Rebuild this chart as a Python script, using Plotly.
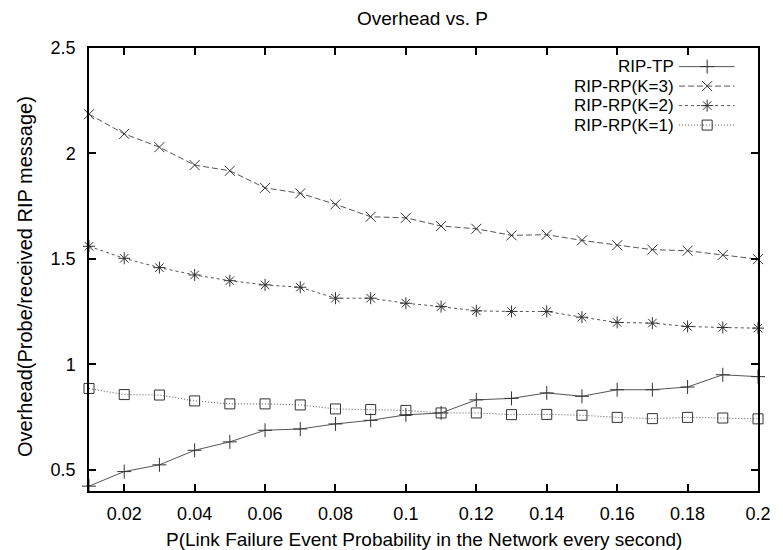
import plotly.graph_objects as go

p_values = [0.01, 0.02, 0.03, 0.04, 0.05, 0.06, 0.07, 0.08, 0.09, 0.10,
            0.11, 0.12, 0.13, 0.14, 0.15, 0.16, 0.17, 0.18, 0.19, 0.20]

rip_tp = [0.423, 0.492, 0.524, 0.593, 0.633, 0.688, 0.694, 0.718, 0.735, 0.761,
          0.770, 0.832, 0.839, 0.865, 0.849, 0.880, 0.880, 0.893, 0.951, 0.942]
rip_rp_k3 = [2.186, 2.093, 2.030, 1.945, 1.918, 1.837, 1.811, 1.759, 1.700, 1.695,
             1.656, 1.643, 1.612, 1.615, 1.588, 1.565, 1.544, 1.539, 1.519, 1.499]
rip_rp_k2 = [1.560, 1.503, 1.459, 1.424, 1.397, 1.377, 1.366, 1.314, 1.314, 1.290,
             1.274, 1.254, 1.251, 1.251, 1.224, 1.199, 1.196, 1.180, 1.175, 1.172]
rip_rp_k1 = [0.886, 0.857, 0.855, 0.827, 0.813, 0.813, 0.808, 0.789, 0.786, 0.782,
             0.770, 0.770, 0.762, 0.763, 0.759, 0.749, 0.743, 0.749, 0.746, 0.742]

series_names = ["RIP-TP", "RIP-RP(K=3)", "RIP-RP(K=2)", "RIP-RP(K=1)"]
series_values = [rip_tp, rip_rp_k3, rip_rp_k2, rip_rp_k1]

x_tick_vals = [0.02, 0.04, 0.06, 0.08, 0.10, 0.12, 0.14, 0.16, 0.18, 0.20]
x_tick_text = ["0.02", "0.04", "0.06", "0.08", "0.1", "0.12", "0.14", "0.16", "0.18", "0.2"]
y_tick_vals = [0.5, 1.0, 1.5, 2.0, 2.5]
y_tick_text = ["0.5", "1", "1.5", "2", "2.5"]

title_text = "Overhead vs. P"
x_title = "P(Link Failure Event Probability in the Network every second)"
y_title = "Overhead(Probe/received RIP message)"

styles = [
    dict(dash="solid", symbol="cross-thin-open", size=10),
    dict(dash="6px,3px", symbol="x-thin-open", size=10),
    dict(dash="3px,3px", symbol="asterisk-open", size=10),
    dict(dash="1px,2px", symbol="square-open", size=10),
]
line_color = "#555555"
marker_color = "#333333"
FONT = "Liberation Sans, Arial, sans-serif"
FS = 18

fig = go.Figure()
for name, vals, st in zip(series_names, series_values, styles):
    fig.add_trace(go.Scatter(
        x=p_values, y=vals, mode="lines+markers", name=name,
        line=dict(color=line_color, width=1, dash=st["dash"]),
        marker=dict(symbol=st["symbol"], size=st["size"],
                    color=marker_color, line=dict(color=marker_color, width=1)),
        showlegend=False, cliponaxis=False,
    ))

# gnuplot-style key: text right-aligned, then line sample with a marker
row_y = [0.958, 0.914, 0.870, 0.826]
for name, st, ry in zip(series_names, styles, row_y):
    fig.add_trace(go.Scatter(
        x=[0.882, 0.965], y=[ry, ry], mode="lines", xaxis="x2", yaxis="y2",
        line=dict(color=line_color, width=1, dash=st["dash"]),
        showlegend=False, hoverinfo="skip"))
    fig.add_trace(go.Scatter(
        x=[0.924], y=[ry], mode="markers", xaxis="x2", yaxis="y2",
        marker=dict(symbol=st["symbol"], size=st["size"],
                    color=marker_color, line=dict(color=marker_color, width=1)),
        showlegend=False, hoverinfo="skip"))
    fig.add_annotation(x=0.874, y=ry, xref="x2", yref="y2", text=name,
                       showarrow=False, xanchor="right", yanchor="middle",
                       borderpad=0, borderwidth=0,
                       font=dict(family=FONT, size=17, color="black"))

fig.add_annotation(text=title_text, xref="paper", yref="paper",
                   x=0.498, y=1.066, xanchor="center", yanchor="middle",
                   showarrow=False, font=dict(family=FONT, size=FS + 1, color="black"))
fig.add_annotation(text=x_title, xref="paper", yref="paper",
                   x=0.501, y=-0.110, xanchor="center", yanchor="middle",
                   showarrow=False, font=dict(family=FONT, size=FS + 1, color="black"))
fig.add_annotation(text=y_title, xref="paper", yref="paper",
                   x=-0.0956, y=0.483, xanchor="center", yanchor="middle",
                   textangle=-90,
                   showarrow=False, font=dict(family=FONT, size=FS + 2, color="black"))

fig.update_layout(
    width=783, height=550,
    margin=dict(l=89, r=14, t=48, b=59),
    plot_bgcolor="white", paper_bgcolor="white",
    font=dict(family=FONT, size=FS, color="black"),
    xaxis=dict(range=[0.01, 0.2], tickvals=x_tick_vals, ticktext=x_tick_text,
               ticks="inside", ticklen=7, tickwidth=1.5, tickcolor="black",
               showline=True, linecolor="black", linewidth=1.5, mirror="ticks",
               showgrid=False, zeroline=False, ticklabelstandoff=6,
               tickfont=dict(family=FONT, size=FS)),
    yaxis=dict(range=[0.4, 2.5], tickvals=y_tick_vals, ticktext=y_tick_text,
               ticks="inside", ticklen=7, tickwidth=1.5, tickcolor="black",
               showline=True, linecolor="black", linewidth=1.5, mirror="ticks",
               showgrid=False, zeroline=False, ticklabelstandoff=8,
               tickfont=dict(family=FONT, size=FS)),
    xaxis2=dict(overlaying="x", range=[0, 1], visible=False, anchor="y2"),
    yaxis2=dict(overlaying="y", range=[0, 1], visible=False, anchor="x2"),
)

fig.write_html("out.html")
